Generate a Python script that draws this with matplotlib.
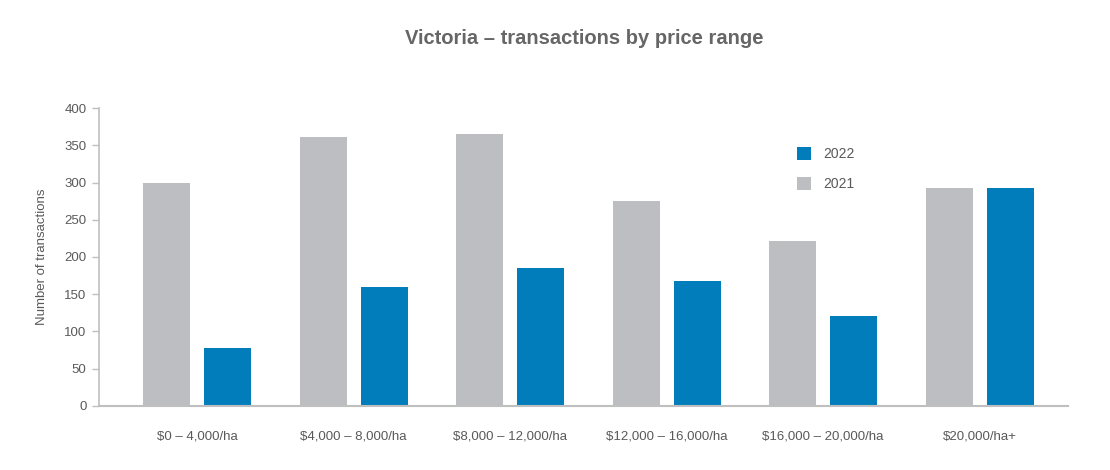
import matplotlib
matplotlib.use("Agg")
import matplotlib.pyplot as plt
import numpy as np

categories = ["$0 – 4,000/ha", "$4,000 – 8,000/ha", "$8,000 – 12,000/ha",
              "$12,000 – 16,000/ha", "$16,000 – 20,000/ha", "$20,000/ha+"]
values_2021 = [300, 361, 365, 275, 221, 293]
values_2022 = [78, 160, 185, 168, 121, 293]
yticks = [0, 50, 100, 150, 200, 250, 300, 350, 400]

plt.rcParams['font.family'] = ['Liberation Sans', 'DejaVu Sans']

GRAY = "#BDBEC1"
BLUE = "#007DBA"
TXT = "#595959"

fig = plt.figure(figsize=(11.1, 4.7), dpi=100)
ax = fig.add_axes([0.0892, 0.1362, 0.8730, 0.634])

x = np.arange(len(categories))
w = 0.30
off = 0.195
b21 = ax.bar(x - off, values_2021, w, color=GRAY, label="2021")
b22 = ax.bar(x + off, values_2022, w, color=BLUE, label="2022")

ax.set_xlim(-0.627, 5.565)
ax.set_ylim(0, 400)
ax.set_yticks(yticks)
ax.set_xticks(x)
ax.set_xticklabels(categories, fontsize=9.5, color=TXT)
ax.tick_params(axis='x', length=0, pad=18)
ax.tick_params(axis='y', length=5, width=1, color="#BFBFBF", labelsize=9.5,
               labelcolor=TXT, pad=4)

for s in ["top", "right"]:
    ax.spines[s].set_visible(False)
ax.spines["left"].set_color("#BFBFBF")
ax.spines["bottom"].set_color("#BFBFBF")
ax.spines["left"].set_linewidth(1.2)
ax.spines["bottom"].set_linewidth(1.5)

ax.set_ylabel("Number of transactions", fontsize=9.5, color=TXT, labelpad=12)

leg = ax.legend(handles=[b22, b21], labels=["2022", "2021"], loc="center left",
                bbox_to_anchor=(0.707, 0.795), frameon=False, fontsize=10,
                handlelength=1.05, handleheight=1.05, labelspacing=1.1,
                handletextpad=0.9)
for t in leg.get_texts():
    t.set_color(TXT)

fig.text(0.526, 0.918, "Victoria – transactions by price range", ha="center",
         va="center", fontsize=14.5, fontweight="bold", color="#666666")

fig.savefig("out.png", dpi=100)
